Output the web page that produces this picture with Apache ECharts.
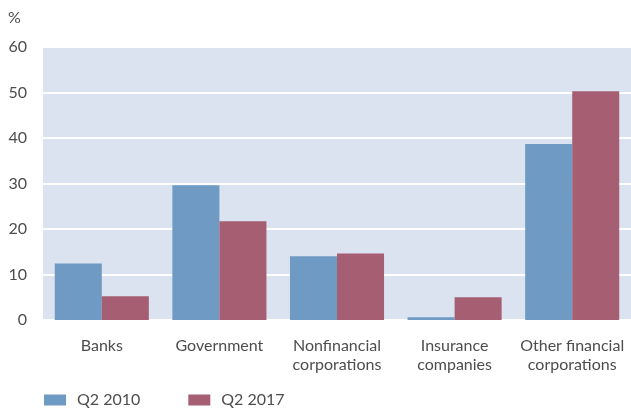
<!DOCTYPE html>
<html>
<head>
<meta charset="utf-8">
<script src="https://cdn.jsdelivr.net/npm/echarts@6/dist/echarts.min.js"></script>
<style>
  html, body { margin: 0; padding: 0; background: #fff; }
  #chart { width: 631px; height: 410px; }
</style>
</head>
<body>
<div id="chart"></div>
<script>
const categories = ['Banks', 'Government', 'Nonfinancial\ncorporations', 'Insurance\ncompanies', 'Other financial\ncorporations'];
const q2_2010 = [12.4, 29.6, 14.0, 0.6, 38.7];
const q2_2017 = [5.2, 21.7, 14.6, 5.0, 50.3];
const yTicks = [0, 10, 20, 30, 40, 50, 60];

const chart = echarts.init(document.getElementById('chart'));
const textColor = '#4d4d4d';
const font = 'Lato, "Open Sans", sans-serif';

chart.setOption({
  animation: false,
  textStyle: { fontFamily: font },
  grid: {
    left: 43, right: 0, top: 47, bottom: 90,
    show: true, backgroundColor: '#dae3ef', borderWidth: 0
  },
  graphic: [{
    type: 'text', left: 8, top: 10,
    style: { text: '%', fontSize: 16, fill: textColor, fontFamily: font }
  }],
  legend: {
    left: 39, top: 387,
    itemWidth: 22, itemHeight: 11, itemGap: 48,
    icon: 'rect',
    textStyle: { fontSize: 16, color: textColor, fontFamily: font, padding: [0, 0, 0, 6] },
    data: ['Q2 2010', 'Q2 2017']
  },
  xAxis: {
    type: 'category',
    data: categories,
    axisLine: { show: false },
    axisTick: { show: false },
    axisLabel: { interval: 0, color: textColor, fontSize: 16, lineHeight: 19, margin: 16, fontFamily: font }
  },
  yAxis: {
    type: 'value',
    min: yTicks[0], max: yTicks[yTicks.length - 1], interval: 10,
    axisLine: { show: false },
    axisTick: { show: false },
    axisLabel: { color: textColor, fontSize: 16, margin: 16, fontFamily: font },
    splitLine: { lineStyle: { color: '#ffffff', width: 2 } }
  },
  series: [{
    name: 'Q2 2010',
    type: 'bar',
    barWidth: '40%',
    barGap: '0%',
    itemStyle: { color: '#6f9ac4' },
    data: q2_2010
  }, {
    name: 'Q2 2017',
    type: 'bar',
    barWidth: '40%',
    itemStyle: { color: '#a65f72' },
    data: q2_2017
  }]
});
</script>
</body>
</html>
